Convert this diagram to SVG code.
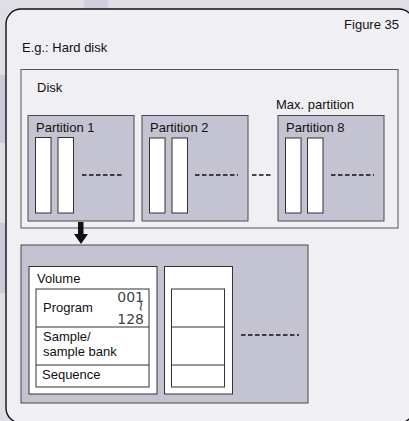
<svg xmlns="http://www.w3.org/2000/svg" width="409" height="421" viewBox="0 0 409 421">
<style>
text{font-family:"Liberation Sans",Arial,sans-serif;font-size:13px;fill:#111}
.num{font-family:"DejaVu Sans",sans-serif;font-size:14px;fill:#444}
.part{fill:#c3c3d1;stroke:#4a4a4a;stroke-width:1}
.bar{fill:#fff;stroke:#333;stroke-width:1}
.wbox{fill:#fff;stroke:#333;stroke-width:1}
.dash{stroke:#111;stroke-width:1.6;stroke-dasharray:4.5 2.5;fill:none}
</style>
<rect width="409" height="421" fill="#dedee6"/>
<rect x="84" y="0" width="24" height="12" fill="#cfcfdb"/>
<rect x="0" y="75" width="6" height="68" fill="#cbcbd8"/>
<rect x="0" y="223" width="6" height="70" fill="#cbcbd8"/>
<rect x="6" y="9" width="408" height="414" rx="15" ry="15" fill="#f0eff3" stroke="#111" stroke-width="1.4"/>
<text x="399" y="29" text-anchor="end">Figure 35</text>
<text x="22" y="52">E.g.: Hard disk</text>
<g id="disk">
<rect x="21" y="69.5" width="377" height="158.5" fill="#f0eff3" stroke="#555" stroke-width="1"/>
<text x="37" y="92">Disk</text>
<text x="276" y="109">Max. partition</text>
</g>
<g id="partition1">
<rect class="part" x="28" y="115.5" width="106" height="105.5"/>
<text x="36" y="132">Partition 1</text>
<rect class="bar" x="35.5" y="137.5" width="15.5" height="75.5"/>
<rect class="bar" x="58" y="137.5" width="15.5" height="75.5"/>
<line class="dash" x1="82" y1="175" x2="124" y2="175"/>
</g>
<g id="partition2">
<rect class="part" x="142" y="115.5" width="106" height="105.5"/>
<text x="150" y="132">Partition 2</text>
<rect class="bar" x="149.5" y="138" width="15.5" height="75"/>
<rect class="bar" x="172" y="138" width="15.5" height="75"/>
<line class="dash" x1="195" y1="175" x2="238" y2="175"/>
</g>
<line class="dash" x1="252" y1="175" x2="273" y2="175"/>
<g id="partition8">
<rect class="part" x="278" y="115.5" width="106" height="105.5"/>
<text x="286" y="132">Partition 8</text>
<rect class="bar" x="285.5" y="138" width="15.5" height="75"/>
<rect class="bar" x="307.5" y="138" width="15.5" height="75"/>
<line class="dash" x1="331" y1="175" x2="374" y2="175"/>
</g>
<g id="connectors">
<path d="M78,222 H83.5 V234 H88 L81,244 L74,234 H78 Z" fill="#111"/>
</g>
<g id="partition-detail">
<rect class="part" x="21" y="245" width="287" height="158"/>
</g>
<g id="volume1">
<rect class="wbox" x="29" y="266.5" width="128" height="127.5"/>
<text x="37" y="283">Volume</text>
<rect class="wbox" x="36" y="289" width="113" height="98"/>
<line x1="36" y1="327" x2="149" y2="327" stroke="#333"/>
<line x1="36" y1="365" x2="149" y2="365" stroke="#333"/>
<text x="43" y="312">Program</text>
<text class="num" x="144" y="302" text-anchor="end">001</text>
<text class="num" x="136" y="306" font-size="8" transform="rotate(90 136 306)" text-anchor="middle">~</text>
<text class="num" x="144" y="324" text-anchor="end">128</text>
<text x="43" y="341">Sample/</text>
<text x="43" y="356">sample bank</text>
<text x="42" y="379">Sequence</text>
</g>
<g id="volume2">
<rect class="wbox" x="164.5" y="266.5" width="68" height="127.5"/>
<rect class="wbox" x="171.5" y="289" width="53" height="98"/>
<line x1="171.5" y1="327" x2="224.5" y2="327" stroke="#333"/>
<line x1="171.5" y1="365" x2="224.5" y2="365" stroke="#333"/>
</g>
<line class="dash" x1="241" y1="335" x2="299" y2="335"/>
</svg>
